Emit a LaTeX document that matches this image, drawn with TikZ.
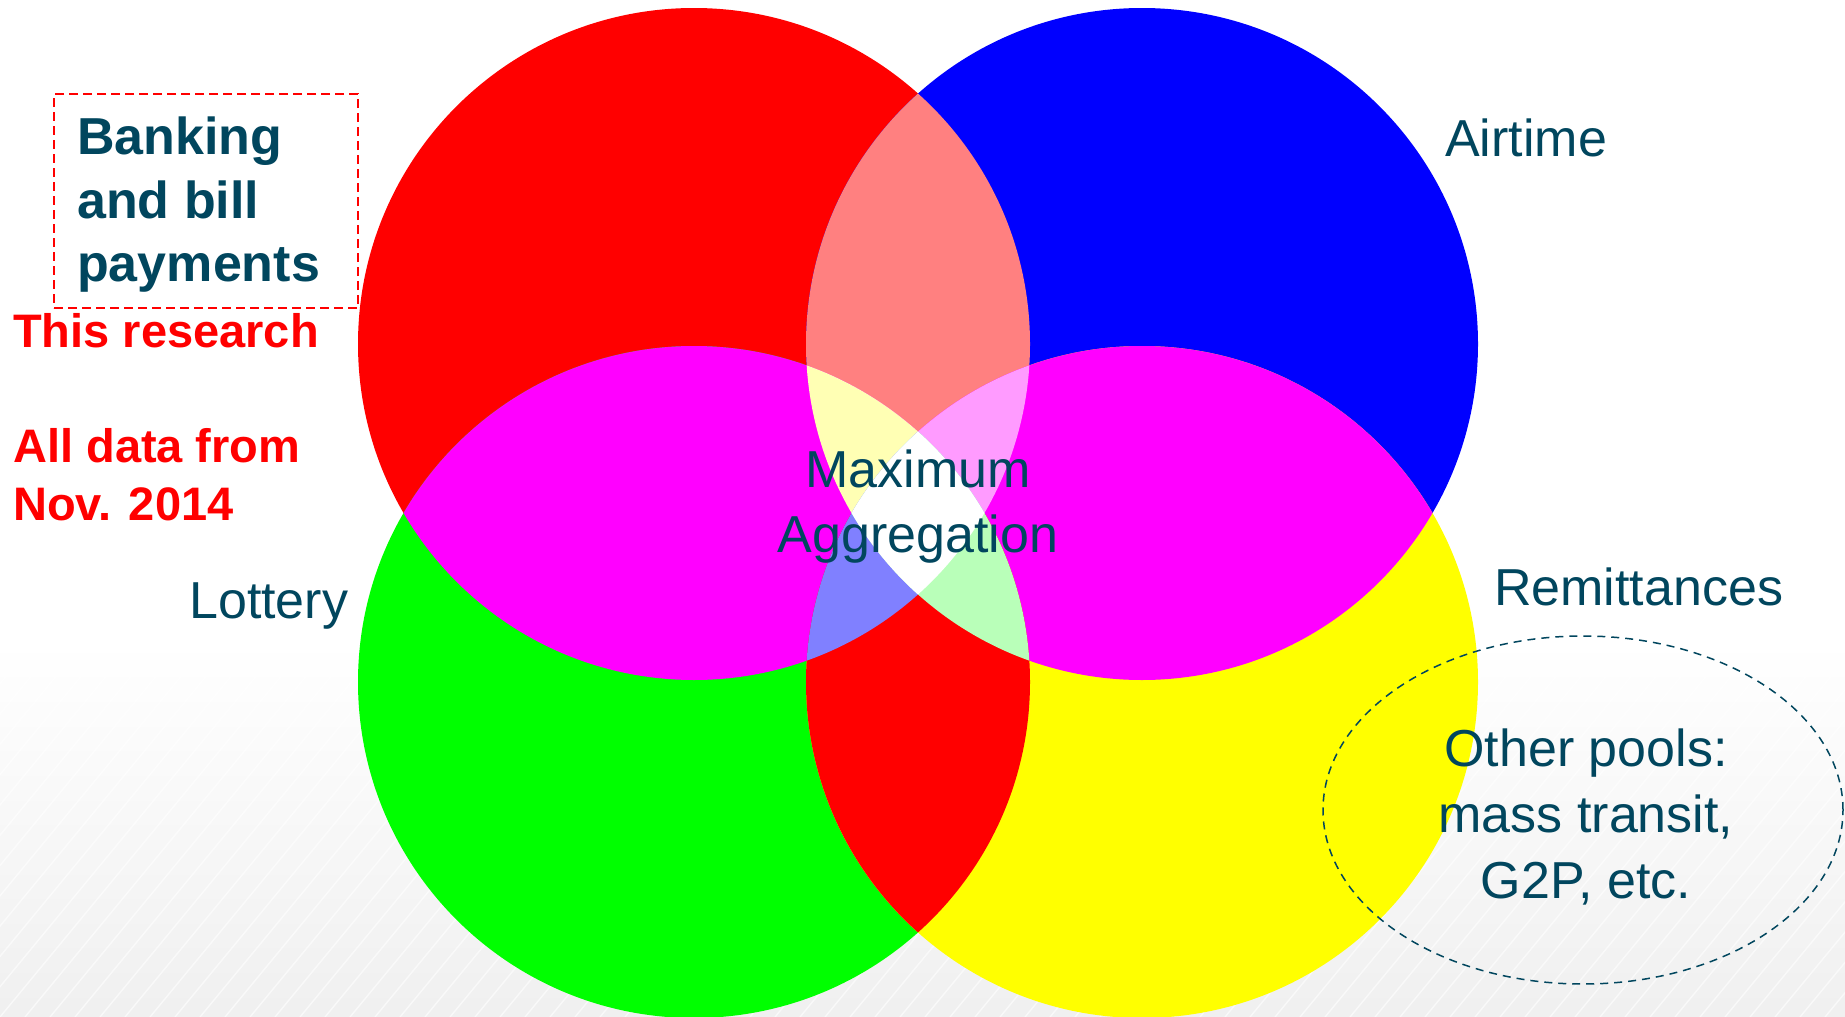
\documentclass[tikz,border=0pt]{standalone}
\usepackage{fontspec}
\setmainfont{Liberation Sans}
\usetikzlibrary{shapes.geometric}
\definecolor{textblue}{RGB}{1,70,94}
\definecolor{poolred}{RGB}{255,0,0}
\definecolor{poolblue}{RGB}{0,0,255}
\definecolor{poolgreen}{RGB}{0,255,0}
\definecolor{poolyellow}{RGB}{255,255,0}
\definecolor{poolmagenta}{RGB}{255,0,255}
\definecolor{salmon}{RGB}{255,128,128}
\definecolor{paleyellow}{RGB}{255,255,180}
\definecolor{palepink}{RGB}{255,155,255}
\definecolor{periwinkle}{RGB}{128,128,255}
\definecolor{palegreen}{RGB}{185,255,185}
% the four pools
\def\circR{(694,344) circle (336pt)}
\def\circB{(1142,344) circle (336pt)}
\def\circG{(694,682) circle (336pt)}
\def\circY{(1142,682) circle (336pt)}
\begin{document}
\begin{tikzpicture}[x=1pt,y=-1pt,
    venntext/.style={text=textblue, inner sep=0, font=\fontsize{52}{65}\selectfont},
    notetext/.style={text=poolred, inner sep=0, font=\bfseries\fontsize{47}{58}\selectfont}]
    \useasboundingbox (0,0) rectangle (1845,1017);
    % backdrop
    \fill[white] (0,0) rectangle (1845,1017);
    \shade[top color=white, bottom color=gray!12] (0,640) rectangle (1845,1017);
    \begin{scope}
      \clip (0,640) rectangle (1845,1017);
      \foreach \s in {-400,-375,...,1850}
        \draw[white, line width=1.4pt, opacity=0.6] (\s,1017) -- ++(330,-400);
    \end{scope}
    % single pools
    \fill[poolred] \circR;
    \fill[poolblue] \circB;
    \fill[poolgreen] \circG;
    \fill[poolyellow] \circY;
    % two pools
    \begin{scope}
      \clip \circR;
      \fill[salmon] \circB;
      \fill[poolmagenta] \circG;
    \end{scope}
    \begin{scope}
      \clip \circY;
      \fill[poolmagenta] \circB;
      \fill[poolred] \circG;
    \end{scope}
    % three pools
    \begin{scope}
      \clip \circR; \clip \circB;
      \fill[paleyellow] \circG;
      \fill[palepink] \circY;
    \end{scope}
    \begin{scope}
      \clip \circG; \clip \circY;
      \fill[periwinkle] \circR;
      \fill[palegreen] \circB;
    \end{scope}
    % all four
    \begin{scope}
      \clip \circR; \clip \circB; \clip \circG;
      \fill[white] \circY;
    \end{scope}

    \node[draw=poolred, line width=1.5pt, dash pattern=on 9pt off 5pt, inner sep=0,
          minimum width=304pt, minimum height=214pt] (bankbox) at (206,201) {};
    \node[venntext, font=\bfseries\fontsize{52}{63.5}\selectfont, anchor=north west, align=left]
      (banking) at (77,117) {Banking\\and bill\\payments};

    \node[notetext, anchor=base west] (research) at (13,347) {This research};
    \node[notetext, anchor=north west, align=left] (data) at (13,428) {All data from\\Nov. 2014};

    \node[venntext, anchor=base west] (airtime) at (1445,156) {Airtime};
    \node[venntext, anchor=base west] (lottery) at (189,618) {Lottery};
    \node[venntext, anchor=base west] (remit) at (1494,605) {Remittances};
    \node[venntext, anchor=north, align=center] (maxagg) at (918,450) {Maximum\\Aggregation};

    \node[ellipse, draw=textblue, line width=1.5pt, dash pattern=on 8pt off 6pt, inner sep=0,
          minimum width=520pt, minimum height=348pt] (pools) at (1583,810) {};
    \node[venntext, anchor=north, align=center, font=\fontsize{52}{66}\selectfont]
      (other) at (1586,729) {Other pools:\\mass transit,\\G2P, etc.};
\end{tikzpicture}
\end{document}
